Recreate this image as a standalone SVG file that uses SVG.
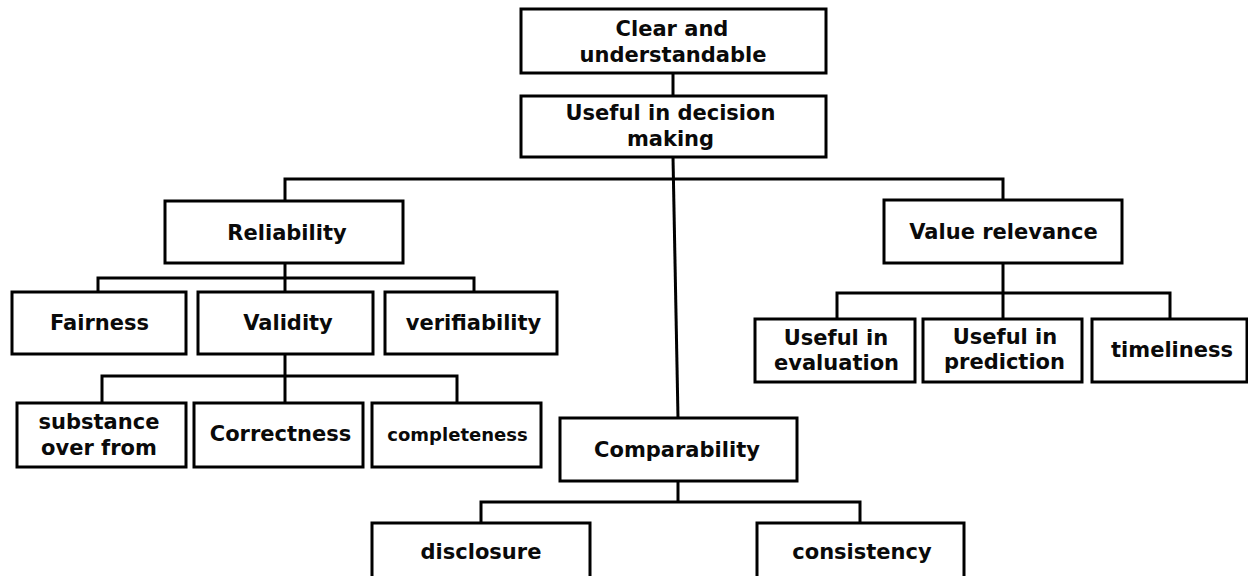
<svg xmlns="http://www.w3.org/2000/svg" width="1248" height="576" viewBox="0 0 1248 576">
<style>
.box{fill:#fff;stroke:#000;stroke-width:3}
.t{font-family:"DejaVu Sans","Liberation Sans",sans-serif;font-weight:bold;font-size:21px;fill:#0a0a0a;text-anchor:middle}
.s{font-size:18px}
.c{fill:none;stroke:#000;stroke-width:3}
</style>
<rect width="1248" height="576" fill="#fff"/>
<g id="connectors" class="c">
<line x1="673" y1="73" x2="673" y2="96"/>
<line x1="673" y1="157" x2="678" y2="418"/>
<polyline points="285,201 285,179 1003,179 1003,200"/>
<polyline points="98,292 98,278 474,278 474,292"/>
<line x1="285" y1="263" x2="285" y2="292"/>
<polyline points="102,403 102,376 457,376 457,403"/>
<line x1="285" y1="354" x2="285" y2="403"/>
<polyline points="837,319 837,293 1170,293 1170,319"/>
<line x1="1003" y1="263" x2="1003" y2="319"/>
<polyline points="481,523 481,502 860,502 860,523"/>
<line x1="678" y1="481" x2="678" y2="502"/>
</g>
<g id="clear"><rect class="box" x="521" y="9" width="305" height="64"/><text class="t" x="672" y="35.5">Clear and</text><text class="t" x="673" y="62">understandable</text></g>
<g id="useful"><rect class="box" x="521" y="96" width="305" height="61"/><text class="t" x="670.5" y="120">Useful in decision</text><text class="t" x="670.5" y="146">making</text></g>
<g id="reliability"><rect class="box" x="165" y="201" width="238" height="62"/><text class="t" x="287" y="240">Reliability</text></g>
<g id="value"><rect class="box" x="884" y="200" width="238" height="63"/><text class="t" x="1003.5" y="239">Value relevance</text></g>
<g id="fairness"><rect class="box" x="12" y="292" width="174" height="62"/><text class="t" x="99.5" y="329.5">Fairness</text></g>
<g id="validity"><rect class="box" x="198" y="292" width="175" height="62"/><text class="t" x="288" y="329.5">Validity</text></g>
<g id="verifiability"><rect class="box" x="385" y="292" width="172" height="62"/><text class="t" x="473.5" y="329.5">verifiability</text></g>
<g id="substance"><rect class="box" x="17" y="403" width="169" height="64"/><text class="t" x="99" y="428.5">substance</text><text class="t" x="99" y="455">over from</text></g>
<g id="correctness"><rect class="box" x="194" y="403" width="169" height="64"/><text class="t" x="280.5" y="441">Correctness</text></g>
<g id="completeness"><rect class="box" x="372" y="403" width="169" height="64"/><text class="t s" x="457.5" y="440.5">completeness</text></g>
<g id="evaluation"><rect class="box" x="755" y="319" width="160" height="63"/><text class="t" x="836" y="345">Useful in</text><text class="t" x="836.5" y="370">evaluation</text></g>
<g id="prediction"><rect class="box" x="923" y="319" width="159" height="63"/><text class="t" x="1005" y="343.5">Useful in</text><text class="t" x="1004.5" y="368.5">prediction</text></g>
<g id="timeliness"><rect class="box" x="1092" y="319" width="155" height="63"/><text class="t" x="1172" y="357">timeliness</text></g>
<g id="comparability"><rect class="box" x="560" y="418" width="237" height="63"/><text class="t" x="677" y="457">Comparability</text></g>
<g id="disclosure"><rect class="box" x="372" y="523" width="218" height="60"/><text class="t" x="481" y="558.5">disclosure</text></g>
<g id="consistency"><rect class="box" x="757" y="523" width="207" height="60"/><text class="t" x="862" y="558.5">consistency</text></g>
</svg>
